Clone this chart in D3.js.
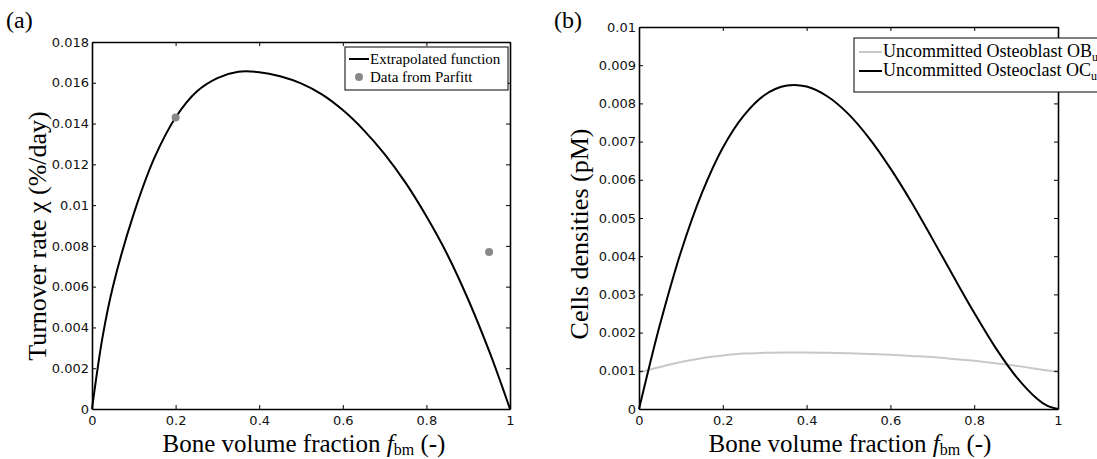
<!DOCTYPE html>
<html>
<head>
<meta charset="utf-8">
<script src="https://cdn.jsdelivr.net/npm/d3@7"></script>
<style>
  body { margin: 0; background: #fff; }
  .tick text { font-family: "DejaVu Sans", sans-serif; font-size: 13px; fill: #111; }
  .serif { font-family: "Liberation Serif", "Times New Roman", serif; fill: #000; }
</style>
</head>
<body>
<svg width="1097" height="459"></svg>
<script>
// bone volume fraction samples
var fbm = [0, 0.025, 0.05, 0.1, 0.15, 0.2, 0.25, 0.3, 0.35, 0.4, 0.45, 0.5,
           0.55, 0.6, 0.65, 0.7, 0.75, 0.8, 0.85, 0.9, 0.95, 0.975, 1];

// (a) turnover rate, extrapolated function
var turnover = [0, 0.0035, 0.0060, 0.00958, 0.01235, 0.0143, 0.01556, 0.01623, 0.01654, 0.01652, 0.01632, 0.01597,
                0.01543, 0.01466, 0.01368, 0.0125, 0.0111, 0.00945, 0.00758, 0.00537, 0.00285, 0.00146, 0];
var parfittX = [0.2, 0.95];
var parfittY = [0.0143, 0.0077];

// (b) cell densities
var obU = [0.00095, 0.00103, 0.00110, 0.00123, 0.00133, 0.00140, 0.00145, 0.00147, 0.00148, 0.00148, 0.00147, 0.00146,
           0.00144, 0.00142, 0.00139, 0.00136, 0.00131, 0.00126, 0.00120, 0.00113, 0.00105, 0.00101, 0.00097];
var ocU = [0, 0.00113, 0.00221, 0.00411, 0.00565, 0.00684, 0.00768, 0.00822, 0.00846, 0.00844, 0.00818, 0.00772,
           0.00708, 0.0063, 0.00542, 0.00446, 0.00348, 0.00252, 0.00162, 0.00085, 0.00027, 0.00008, 0];

var xTicks = [0, 0.2, 0.4, 0.6, 0.8, 1];
var xTickLabels = ["0", "0.2", "0.4", "0.6", "0.8", "1"];
var yTicksA = [0, 0.002, 0.004, 0.006, 0.008, 0.01, 0.012, 0.014, 0.016, 0.018];
var yTickLabelsA = ["0", "0.002", "0.004", "0.006", "0.008", "0.01", "0.012", "0.014", "0.016", "0.018"];
var yTicksB = [0, 0.001, 0.002, 0.003, 0.004, 0.005, 0.006, 0.007, 0.008, 0.009, 0.01];
var yTickLabelsB = ["0", "0.001", "0.002", "0.003", "0.004", "0.005", "0.006", "0.007", "0.008", "0.009", "0.01"];

var svg = d3.select("svg");
svg.append("rect").attr("width", 1097).attr("height", 459).attr("fill", "#fff");

function frame(g, x, y, yTicks, yLabels) {
  var fmtX = function(d, i) { return xTickLabels[i]; };
  var fmtY = function(d, i) { return yLabels[i]; };
  g.append("g").attr("transform", "translate(0," + y.range()[0] + ")")
    .call(d3.axisBottom(x).tickValues(xTicks).tickFormat(fmtX).tickSize(-4).tickSizeOuter(0).tickPadding(7));
  g.append("g").attr("transform", "translate(0," + y.range()[1] + ")")
    .call(d3.axisTop(x).tickValues(xTicks).tickFormat("").tickSize(-4).tickSizeOuter(0));
  g.append("g").attr("transform", "translate(" + x.range()[0] + ",0)")
    .call(d3.axisLeft(y).tickValues(yTicks).tickFormat(fmtY).tickSize(-4).tickSizeOuter(0).tickPadding(3));
  g.append("g").attr("transform", "translate(" + x.range()[1] + ",0)")
    .call(d3.axisRight(y).tickValues(yTicks).tickFormat("").tickSize(-4).tickSizeOuter(0));
  g.selectAll(".domain").attr("stroke", "#000").attr("stroke-width", 1.6);
  g.selectAll(".tick line").attr("stroke", "#000").attr("stroke-width", 1);
}

function xLabel(g, cx, y) {
  var t = g.append("text").attr("class", "serif").attr("x", cx).attr("y", y)
    .attr("text-anchor", "middle").style("font-size", "25px");
  t.append("tspan").text("Bone volume fraction ");
  t.append("tspan").style("font-style", "italic").text("f");
  t.append("tspan").attr("dy", 3).style("font-size", "16px").text("bm");
  t.append("tspan").attr("dy", -3).text(" (-)");
}

function yLabel(g, x, cy, txt) {
  g.append("text").attr("class", "serif")
    .attr("transform", "translate(" + x + "," + cy + ") rotate(-90)")
    .attr("text-anchor", "middle").style("font-size", "26px").text(txt);
}

// ---------- (a)
var ga = svg.append("g");
var xa = d3.scaleLinear().domain([0, 1]).range([92, 510]);
var ya = d3.scaleLinear().domain([0, 0.018]).range([409, 42]);

var lineA = d3.line()
  .x(function(d, i) { return xa(fbm[i]); })
  .y(function(d) { return ya(d); })
  .curve(d3.curveCatmullRom);

ga.append("path").datum(turnover).attr("d", lineA)
  .attr("fill", "none").attr("stroke", "#000").attr("stroke-width", 2);

ga.selectAll("circle.pt").data(parfittX).enter().append("circle")
  .attr("class", "pt")
  .attr("cx", function(d) { return xa(d); })
  .attr("cy", function(d, i) { return ya(parfittY[i]); })
  .attr("r", 4).attr("fill", "#888");

frame(ga, xa, ya, yTicksA, yTickLabelsA);
xLabel(ga, 304, 452);
yLabel(ga, 46, 236, "Turnover rate \u03c7 (%/day)");
ga.append("text").attr("class", "serif").attr("x", 6).attr("y", 28)
  .style("font-size", "24px").text("(a)");

// legend (a)
var la = ga.append("g");
la.append("rect").attr("x", 345).attr("y", 47).attr("width", 163).attr("height", 43)
  .attr("fill", "#fff").attr("stroke", "#000").attr("stroke-width", 1);
la.append("line").attr("x1", 349).attr("x2", 369).attr("y1", 59).attr("y2", 59)
  .attr("stroke", "#000").attr("stroke-width", 2);
la.append("text").attr("class", "serif").attr("x", 370).attr("y", 64)
  .style("font-size", "15px").text("Extrapolated function");
la.append("circle").attr("cx", 359).attr("cy", 77).attr("r", 4).attr("fill", "#888");
la.append("text").attr("class", "serif").attr("x", 370).attr("y", 82)
  .style("font-size", "15px").text("Data from Parfitt");

// ---------- (b)
var gb = svg.append("g");
var xb = d3.scaleLinear().domain([0, 1]).range([639, 1058]);
var yb = d3.scaleLinear().domain([0, 0.01]).range([409, 27]);

var lineB = d3.line()
  .x(function(d, i) { return xb(fbm[i]); })
  .y(function(d) { return yb(d); })
  .curve(d3.curveCatmullRom);

gb.append("path").datum(obU).attr("d", lineB)
  .attr("fill", "none").attr("stroke", "#c8c8c8").attr("stroke-width", 2);
gb.append("path").datum(ocU).attr("d", lineB)
  .attr("fill", "none").attr("stroke", "#000").attr("stroke-width", 2);

frame(gb, xb, yb, yTicksB, yTickLabelsB);
xLabel(gb, 850, 452);
yLabel(gb, 588, 234, "Cells densities (pM)");
gb.append("text").attr("class", "serif").attr("x", 554).attr("y", 28)
  .style("font-size", "24px").text("(b)");

// legend (b)
var lb = gb.append("g");
lb.append("rect").attr("x", 854).attr("y", 38).attr("width", 260).attr("height", 54)
  .attr("fill", "#fff").attr("stroke", "#000").attr("stroke-width", 1);
var entriesB = [
  { color: "#c8c8c8", name: "Uncommitted Osteoblast OB" },
  { color: "#000", name: "Uncommitted Osteoclast OC" }
];
entriesB.forEach(function(e, i) {
  var yy = 52 + i * 19;
  lb.append("line").attr("x1", 859).attr("x2", 882).attr("y1", yy).attr("y2", yy)
    .attr("stroke", e.color).attr("stroke-width", 2);
  var t = lb.append("text").attr("class", "serif").attr("x", 883).attr("y", yy + 5)
    .style("font-size", "18px");
  t.append("tspan").text(e.name);
  t.append("tspan").attr("dy", 4).style("font-size", "12px").text("u");
});
</script>
</body>
</html>
